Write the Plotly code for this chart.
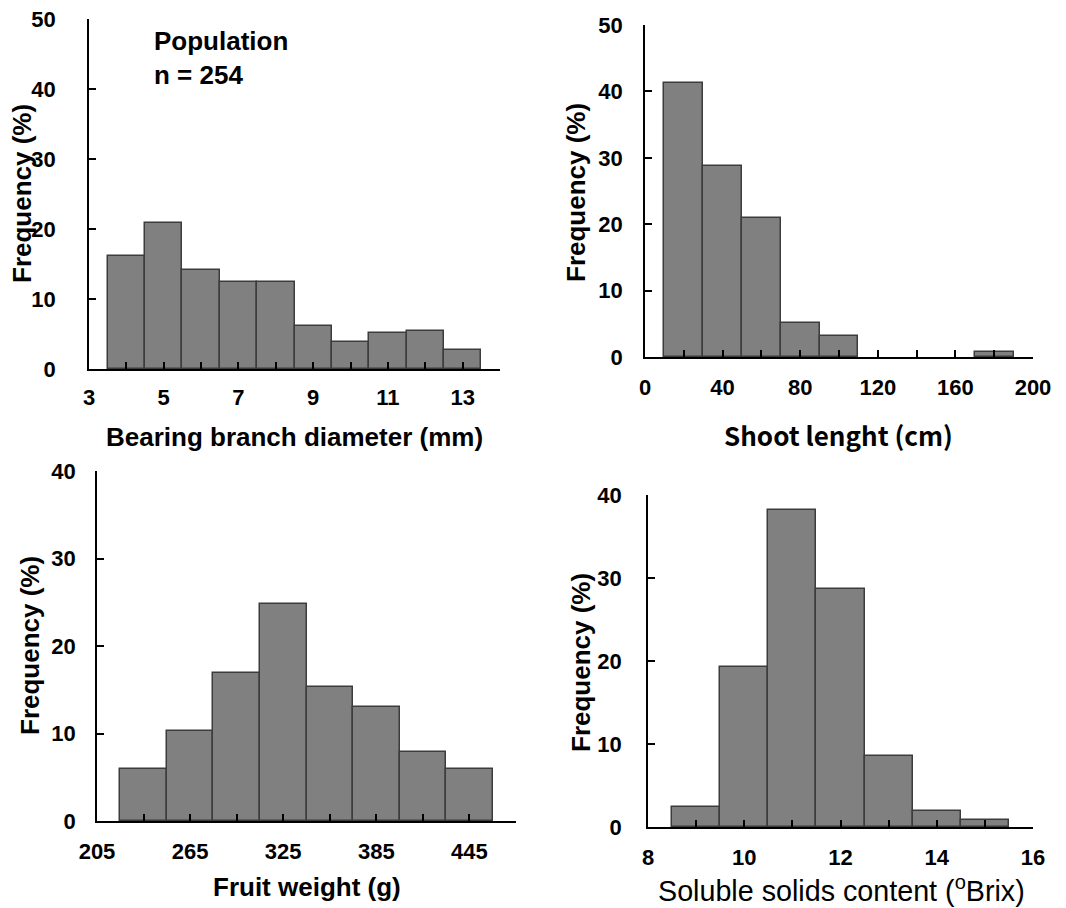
import plotly.graph_objects as go

# ---- data ----
diam_centers = [4, 5, 6, 7, 8, 9, 10, 11, 12, 13]
diam_freq = [16.2, 20.9, 14.1, 12.5, 12.5, 6.2, 3.9, 5.1, 5.5, 2.7]

shoot_centers = [20, 40, 60, 80, 100, 180]
shoot_freq = [41.3, 28.8, 20.9, 5.1, 3.2, 0.8]

fruit_centers = [235, 265, 295, 325, 355, 385, 415, 445]
fruit_freq = [6.0, 10.3, 16.9, 24.8, 15.3, 13.0, 7.9, 6.0]

ssc_centers = [9, 10, 11, 12, 13, 14, 15]
ssc_freq = [2.4, 19.3, 38.2, 28.7, 8.6, 1.9, 0.8]

W, H = 1066, 908
BAR_FILL = "#808080"
BAR_LINE = "#3c3c3c"
AX = "#000000"
ARIAL = "Liberation Sans, Arial, sans-serif"
KR = "Noto Sans CJK KR, Malgun Gothic, sans-serif"

fig = go.Figure()

def add_bars(x, y, width, xa, ya):
    fig.add_trace(go.Bar(
        x=x, y=y, width=width, xaxis=xa, yaxis=ya,
        marker=dict(color=BAR_FILL, line=dict(color=BAR_LINE, width=1.5)),
        showlegend=False, hoverinfo="x+y"))

add_bars(diam_centers, diam_freq, 1, "x", "y")
add_bars(shoot_centers, shoot_freq, 20, "x2", "y2")
add_bars(fruit_centers, fruit_freq, 30, "x3", "y3")
add_bars(ssc_centers, ssc_freq, 1, "x4", "y4")

def px_x(p):
    return p / W

def px_y(p):
    return (H - p) / H

tickfont = dict(family=ARIAL, size=22, color="black", weight="bold")

def xaxis(dom, rng, tick0, dtick, minor, anchor, standoff=10):
    return dict(domain=[px_x(dom[0]), px_x(dom[1])], range=rng, anchor=anchor,
                automargin=False, layer="above traces",
                showline=True, linecolor=AX, linewidth=1.5, showgrid=False,
                zeroline=False, ticks="inside", ticklen=7, tickwidth=1.5,
                tickcolor=AX, tick0=tick0, dtick=dtick, tickfont=tickfont,
                ticklabelstandoff=standoff,
                minor=dict(dtick=minor, tick0=tick0, ticks="inside", ticklen=7,
                           tickwidth=1.5, tickcolor=AX, showgrid=False))

def yaxis(dom, rng, anchor, standoff):
    return dict(domain=[px_y(dom[1]), px_y(dom[0])], range=rng, anchor=anchor,
                automargin=False, layer="above traces",
                showline=True, linecolor=AX, linewidth=1.5, showgrid=False,
                zeroline=False, ticks="inside", ticklen=7, tickwidth=1.5,
                tickcolor=AX, dtick=10, tick0=0, tickfont=tickfont,
                ticklabelstandoff=standoff)

fig.update_layout(
    width=W, height=H,
    margin=dict(l=0, r=0, t=0, b=0, pad=0),
    paper_bgcolor="white", plot_bgcolor="white",
    bargap=0,
    xaxis=xaxis((89, 500), [3, 14], 3, 2, 1, "y", 8),
    yaxis=yaxis((19, 369), [0, 50], "x", 27),
    xaxis2=xaxis((645, 1033), [0, 200], 0, 40, 20, "y2"),
    yaxis2=yaxis((25, 357), [0, 50], "x2", 16),
    xaxis3=xaxis((97, 516), [205, 475], 205, 60, 30, "y3"),
    yaxis3=yaxis((471, 821), [0, 40], "x3", 15),
    xaxis4=xaxis((648, 1033), [8, 16], 8, 2, 1, "y4"),
    yaxis4=yaxis((495, 827), [0, 40], "x4", 20),
)

def label(text, xc, yc, family, weight, size=26, angle=0, xanchor="center", yanchor="middle"):
    fig.add_annotation(text=text, x=px_x(xc), y=px_y(yc), xref="paper", yref="paper",
                       showarrow=False, textangle=angle, xanchor=xanchor, yanchor=yanchor,
                       font=dict(family=family, size=size, color="black", weight=weight))

# y titles
label("Frequency (%)", 22, 194, ARIAL, "bold", angle=-90)
label("Frequency (%)", 576, 193, ARIAL, "bold", angle=-90)
label("Frequency (%)", 30, 646, ARIAL, "bold", angle=-90)
label("Frequency (%)", 581, 663, ARIAL, "bold", angle=-90)

# x titles
label("Bearing branch diameter (mm)", 294, 437, ARIAL, "bold")
label("Shoot lenght (cm)", 838, 434, KR, "bold", size=26)
label("Fruit weight (g)", 307, 887, ARIAL, "bold")
label("Soluble solids content (<sup>o</sup>Brix)", 841, 889, ARIAL, "normal", size=28.7)

# in-panel note
fig.add_annotation(text="Population<br>n = 254", x=px_x(152), y=px_y(24), xref="paper",
                   yref="paper", showarrow=False, xanchor="left", yanchor="top", align="left",
                   font=dict(family=ARIAL, size=26, color="black", weight="bold"))

fig.write_html("out.html", config={"displayModeBar": False},
               post_script="document.body.style.margin='0';document.body.style.overflow='hidden';")
